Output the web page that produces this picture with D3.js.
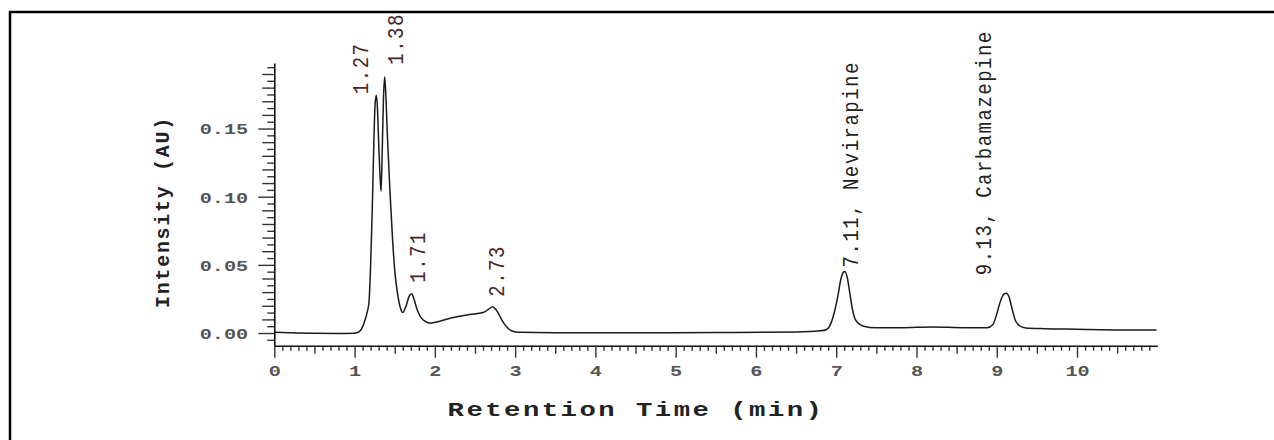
<!DOCTYPE html>
<html>
<head>
<meta charset="utf-8">
<script src="https://cdn.jsdelivr.net/npm/d3@7"></script>
<style>
  body { margin: 0; background: #fff; }
  text { font-family: "Liberation Mono", "DejaVu Sans Mono", monospace; }
</style>
</head>
<body>
<div id="chart"></div>
<script>
// chromatogram trace
var rtMin = [0.00, 0.20, 0.50, 0.80, 1.00, 1.06, 1.10, 1.13, 1.16, 1.18, 1.20, 1.22, 1.24, 1.255, 1.27,
  1.285, 1.30, 1.315, 1.33, 1.345, 1.36, 1.375, 1.39, 1.41, 1.44, 1.47, 1.50, 1.54, 1.57, 1.60,
  1.64, 1.68, 1.71, 1.74, 1.78, 1.82, 1.88, 1.95, 2.05, 2.20, 2.40, 2.55, 2.62, 2.67, 2.72,
  2.76, 2.80, 2.85, 2.90, 2.96, 3.05, 3.50, 4.50, 5.50, 6.50, 6.80, 6.88, 6.94, 6.98, 7.02,
  7.06, 7.09, 7.11, 7.14, 7.17, 7.20, 7.23, 7.27, 7.33, 7.50, 7.80, 8.20, 8.60, 8.88, 8.95,
  9.00, 9.05, 9.09, 9.12, 9.15, 9.19, 9.23, 9.28, 9.36, 9.60, 10.00, 10.50, 10.99];
var intensityAU = [0.0006, 0.0002, -0.0002, -0.0003, -0.0002, 0.0010, 0.0045, 0.0095, 0.0160, 0.0230, 0.0500, 0.0900, 0.1400, 0.1670, 0.1745,
  0.1650, 0.1400, 0.1180, 0.1040, 0.1350, 0.1720, 0.1880, 0.1740, 0.1430, 0.1050, 0.0720, 0.0460, 0.0270, 0.0185, 0.0150,
  0.0195, 0.0270, 0.0288, 0.0250, 0.0170, 0.0120, 0.0085, 0.0072, 0.0085, 0.0110, 0.0133, 0.0145, 0.0155, 0.0175, 0.0193,
  0.0172, 0.0135, 0.0080, 0.0042, 0.0015, 0.0005, 0.0002, 0.0002, 0.0003, 0.0008, 0.0016, 0.0026, 0.0080, 0.0160, 0.0270,
  0.0400, 0.0447, 0.0452, 0.0400, 0.0290, 0.0180, 0.0110, 0.0075, 0.0052, 0.0038, 0.0038, 0.0045, 0.0038, 0.0038, 0.0060,
  0.0140, 0.0240, 0.0285, 0.0292, 0.0270, 0.0180, 0.0095, 0.0055, 0.0037, 0.0032, 0.0028, 0.0023, 0.0022];

// peak annotations
var peakLabels = ["1.27", "1.38", "1.71", "2.73", "7.11, Nevirapine", "9.13, Carbamazepine"];
var peakTimes = [1.27, 1.38, 1.71, 2.73, 7.11, 9.13];
var peakHeights = [0.1745, 0.188, 0.0288, 0.0193, 0.0452, 0.0292];

var xTicks = [0, 1, 2, 3, 4, 5, 6, 7, 8, 9, 10];
var yTicks = [0.00, 0.05, 0.10, 0.15];

// label nudges (px) so the tags do not collide
var labelDx = [-16, 10, 5, 2, 5, -24];
var labelGap = [1, 12, 11, 10, 4, 18];

var svgWidth = 1274;
var svgHeight = 440;

var svg = d3.select("#chart")
  .append("svg")
  .attr("width", svgWidth)
  .attr("height", svgHeight);

// outer frame (only top and left edges visible)
svg.append("rect")
  .attr("x", 10)
  .attr("y", 12)
  .attr("width", svgWidth + 20)
  .attr("height", svgHeight + 20)
  .attr("fill", "none")
  .attr("stroke", "#000")
  .attr("stroke-width", 2.5);

var xScale = d3.scaleLinear()
  .domain([0, 11])
  .range([274.3, 1157.3]);

var yScale = d3.scaleLinear()
  .domain([-0.0093, 0.198])
  .range([345.7, 63.1]);

var x0 = xScale.range()[0];
var y0 = yScale.range()[0];

// y axis: minor, mid and major ticks
var yMinor = d3.range(-0.005, 0.198, 0.01);
var yMid = d3.range(0.01, 0.198, 0.01).filter(function (v) { return Math.abs(v * 20 - Math.round(v * 20)) > 1e-6; });

svg.append("g")
  .attr("transform", `translate(${x0},0)`)
  .call(d3.axisLeft(yScale).tickValues(yMinor).tickSize(7).tickSizeOuter(0).tickFormat(""))
  .call(g => g.select(".domain").remove());

svg.append("g")
  .attr("transform", `translate(${x0},0)`)
  .call(d3.axisLeft(yScale).tickValues(yMid).tickSize(12).tickSizeOuter(0).tickFormat(""))
  .call(g => g.select(".domain").remove());

var yAxis = svg.append("g")
  .attr("transform", `translate(${x0},0)`)
  .call(d3.axisLeft(yScale).tickValues(yTicks).tickSize(16).tickSizeOuter(0).tickFormat(d3.format(".2f")));

yAxis.selectAll("text")
  .attr("x", -19.3)
  .attr("dy", "0.36em")
  .attr("transform", "scale(1.35,1)")
  .style("font-size", "15px")
  .style("font-weight", "bold")
  .attr("fill", "#555");

// x axis: minor, half and major ticks
var xMinor = d3.range(0.1, 11.0, 0.1).filter(function (v) { return Math.abs(v * 2 - Math.round(v * 2)) > 1e-6; });
var xHalf = d3.range(0.5, 11, 1);

svg.append("g")
  .attr("transform", `translate(0,${y0})`)
  .call(d3.axisBottom(xScale).tickValues(xMinor).tickSize(5).tickSizeOuter(0).tickFormat(""))
  .call(g => g.select(".domain").remove());

svg.append("g")
  .attr("transform", `translate(0,${y0})`)
  .call(d3.axisBottom(xScale).tickValues(xHalf).tickSize(8).tickSizeOuter(0).tickFormat(""))
  .call(g => g.select(".domain").remove());

var xAxis = svg.append("g")
  .attr("transform", `translate(0,${y0})`)
  .call(d3.axisBottom(xScale).tickValues(xTicks).tickSize(12).tickSizeOuter(0));

xAxis.selectAll("text")
  .attr("y", 25)
  .attr("dy", "0.36em")
  .attr("transform", "scale(1.35,1)")
  .style("font-size", "15px")
  .style("font-weight", "bold")
  .attr("fill", "#555");

svg.selectAll(".domain").attr("stroke", "#111").attr("stroke-width", 1.6);
svg.selectAll(".tick line").attr("stroke", "#333").attr("stroke-width", 1.4);

// trace
var points = rtMin.map(function (t, i) { return [t, intensityAU[i]]; });

var line = d3.line()
  .x(d => xScale(d[0]))
  .y(d => yScale(d[1]))
  .curve(d3.curveMonotoneX);

svg.append("path")
  .datum(points)
  .attr("d", line)
  .attr("fill", "none")
  .attr("stroke", "#1a1a1a")
  .attr("stroke-width", 1.5);

// peak labels, rotated
svg.selectAll(".peakLabel")
  .data(peakLabels)
  .enter()
  .append("text")
    .attr("class", "peakLabel")
    .attr("transform", function (d, i) {
      var px = xScale(peakTimes[i]) + labelDx[i];
      var py = yScale(peakHeights[i]) - labelGap[i];
      return `translate(${px},${py}) scale(1.2,1) rotate(-90)`;
    })
    .attr("dy", "0.36em")
    .style("font-size", "19px")
    .style("letter-spacing", "1.5px")
    .attr("fill", function (d) { return d.length > 4 ? "#222" : "#4a2626"; })
    .text(d => d);

// axis titles
svg.append("text")
  .attr("transform", "translate(636,408) scale(1.3,1)")
  .attr("text-anchor", "middle")
  .attr("dy", "0.36em")
  .style("font-size", "21px")
  .style("font-weight", "bold")
  .style("letter-spacing", "1.9px")
  .attr("fill", "#222")
  .text("Retention Time (min)");

svg.append("text")
  .attr("transform", "translate(162,212) rotate(-90)")
  .attr("text-anchor", "middle")
  .attr("dy", "0.36em")
  .style("font-size", "20px")
  .style("font-weight", "bold")
  .style("letter-spacing", "1.7px")
  .attr("fill", "#222")
  .text("Intensity (AU)");
</script>
</body>
</html>
